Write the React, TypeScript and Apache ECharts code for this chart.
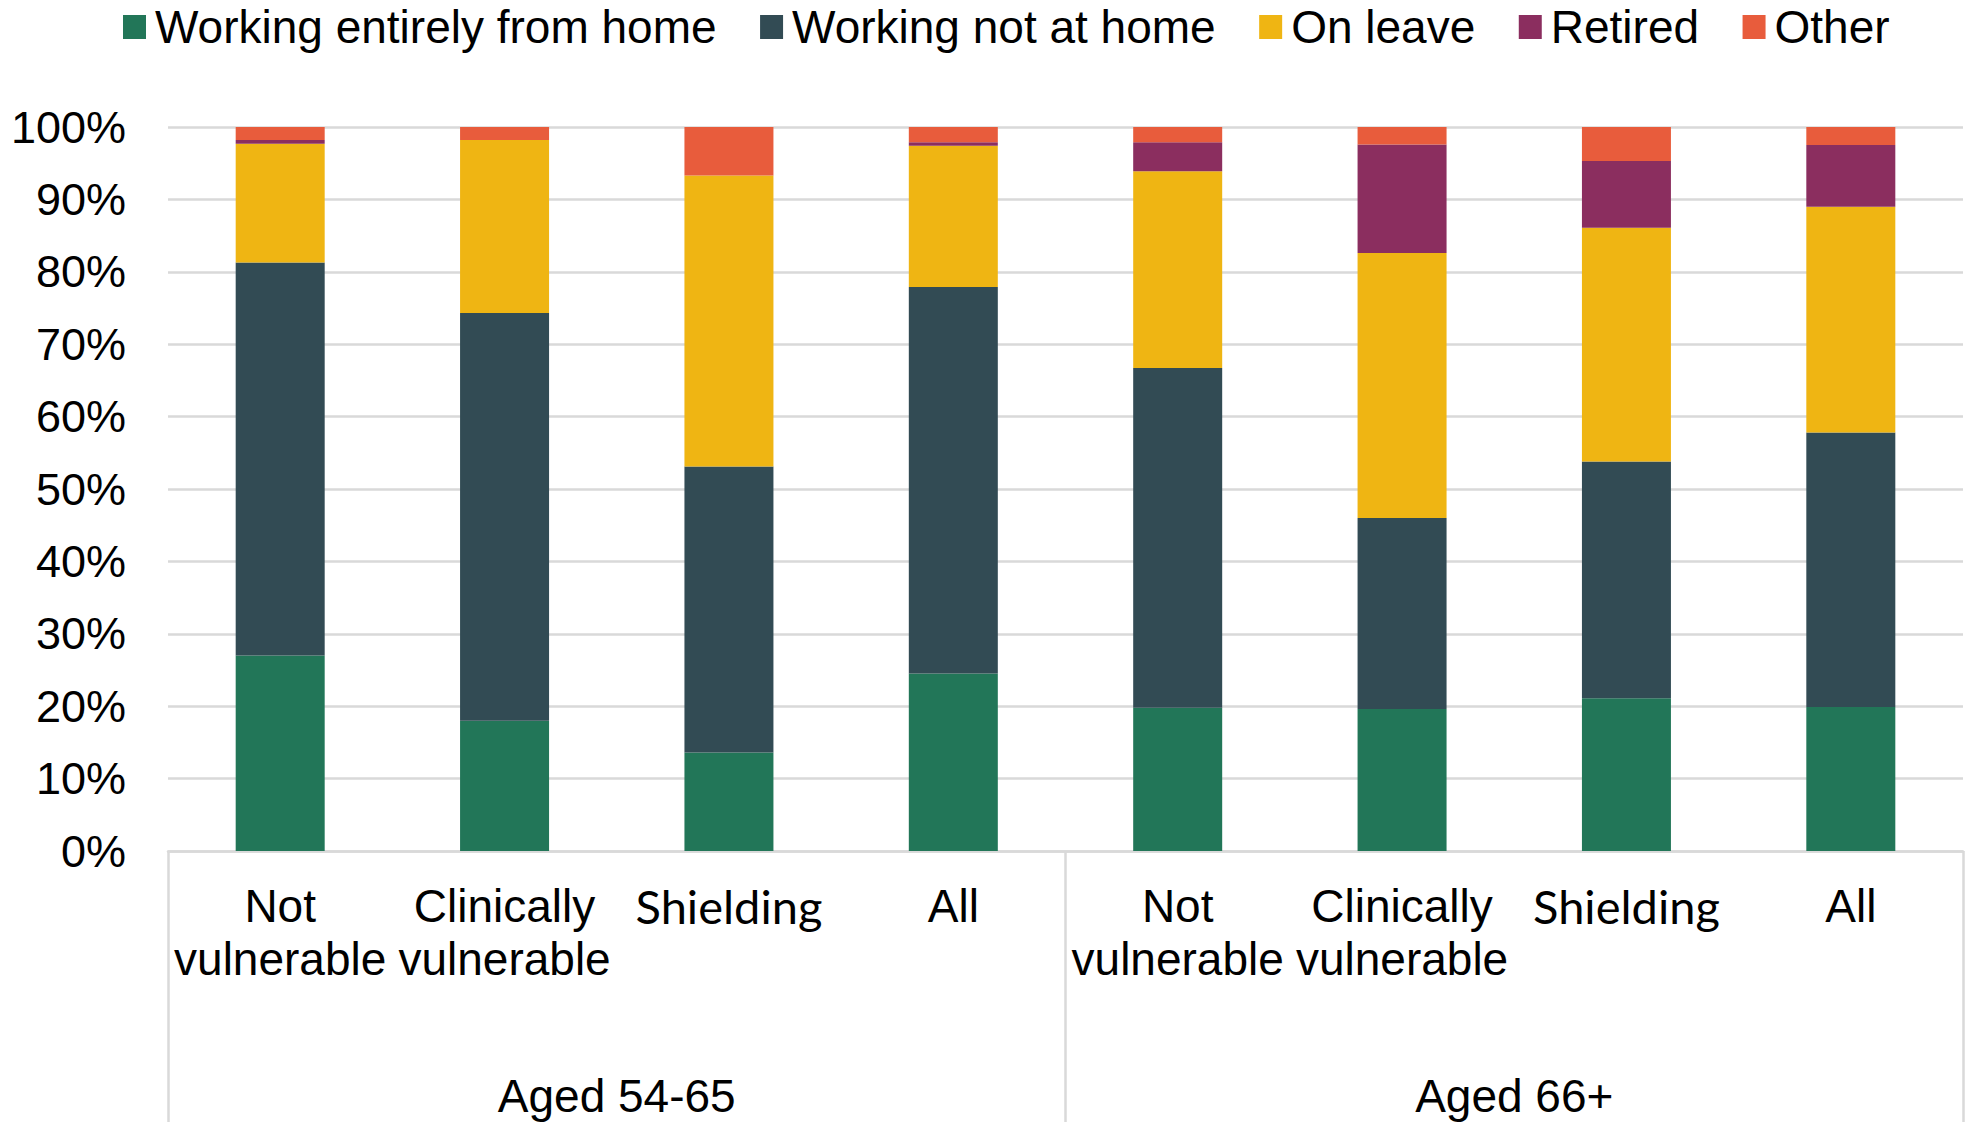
import React, { useEffect, useRef } from "react";
import * as echarts from "echarts";

const categories = [
  "Not\nvulnerable", "Clinically\nvulnerable", "Shielding", "All",
  "Not\nvulnerable", "Clinically\nvulnerable", "Shielding", "All",
];
const groups = ["Aged 54-65", "Aged 66+"];
const seriesNames = ["Working entirely from home", "Working not at home", "On leave", "Retired", "Other"];
const fromHome = [27.0, 18.0, 13.6, 24.5, 19.8, 19.6, 21.1, 19.9];
const notAtHome = [54.3, 56.3, 39.5, 53.4, 46.9, 26.4, 32.7, 37.9];
const onLeave = [16.4, 23.9, 40.2, 19.5, 27.2, 36.6, 32.3, 31.2];
const retired = [0.5, 0, 0, 0.5, 4.0, 15.0, 9.2, 8.5];
const other = [1.8, 1.8, 6.7, 2.1, 2.1, 2.4, 4.7, 2.5];
const colors = ["#227658", "#324B54", "#EFB513", "#8B2E5F", "#E85C3C"];

const FONT = "'Liberation Sans', Arial, sans-serif";

export default function App() {
  const ref = useRef<HTMLDivElement>(null);
  useEffect(() => {
    if (!ref.current) return;
    const chart = echarts.init(ref.current, null, { renderer: "svg" });
    const values = [fromHome, notAtHome, onLeave, retired, other];
    chart.setOption({
      animation: false,
      backgroundColor: "#ffffff",
      color: colors,
      textStyle: { fontFamily: FONT, color: "#000" },
      legend: {
        top: 4,
        left: 123,
        padding: 0,
        itemWidth: 23,
        itemHeight: 24,
        itemGap: 43.5,
        icon: "rect",
        textStyle: { fontSize: 46, fontFamily: FONT, color: "#000", padding: [0, 0, 0, 4] },
        data: seriesNames,
      },
      grid: { left: 168, right: 7, top: 127, bottom: 271, containLabel: false },
      xAxis: [
        {
          type: "category",
          data: categories,
          position: "bottom",
          axisLine: { show: true, lineStyle: { color: "#D9D9D9", width: 2.5 } },
          axisTick: { show: false },
          axisLabel: {
            interval: 0,
            margin: 28,
            fontSize: 46,
            lineHeight: 53,
            color: "#000",
            fontFamily: FONT,
            formatter: (v: string) => (v === "Shielding" ? "{s|Shielding}" : v),
            rich: {
              s: { fontFamily: "Lato, 'Open Sans', sans-serif", fontSize: 47, lineHeight: 53, color: "#000" },
            },
          },
        },
        {
          type: "category",
          data: groups,
          position: "bottom",
          axisLine: { show: false },
          axisTick: { show: true, length: 275, lineStyle: { color: "#D9D9D9", width: 2.5 } },
          axisLabel: { interval: 0, margin: 222, fontSize: 46, lineHeight: 46, color: "#000", fontFamily: FONT },
        },
      ],
      yAxis: {
        type: "value",
        min: 0,
        max: 100,
        interval: 10,
        axisLine: { show: false },
        axisTick: { show: false },
        splitLine: { lineStyle: { color: "#D9D9D9", width: 2.5 } },
        axisLabel: { formatter: "{value}%", fontSize: 45, margin: 42, color: "#000", fontFamily: FONT },
      },
      series: seriesNames.map((name, i) => ({
        name,
        type: "bar",
        stack: "total",
        barWidth: 89,
        xAxisIndex: 0,
        data: values[i],
        itemStyle: { color: colors[i] },
      })),
    });
    return () => chart.dispose();
  }, []);
  return (
    <div
      ref={ref}
      style={{ position: "absolute", left: 0, top: 0, width: 1970, height: 1122 }}
    />
  );
}
